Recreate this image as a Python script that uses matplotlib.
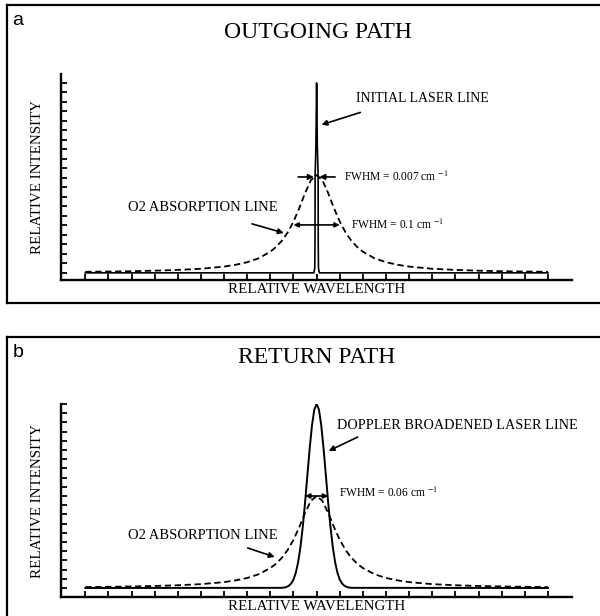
import matplotlib
matplotlib.use('Agg')
import matplotlib.pyplot as plt
from matplotlib.lines import Line2D

plt.rcParams['font.family'] = 'Liberation Serif'
plt.rcParams['mathtext.fontset'] = 'stix'

# Half-profiles (offset from line centre, relative units);
# the line shapes are symmetric, so each is mirrored about zero.
o2_offsets = [0, 0.25, 0.5, 0.75, 1.0, 1.25, 1.5, 1.75, 2.0, 2.5, 3.0, 3.5,
              4, 5, 6, 7, 8, 9, 10]
o2_out = [10.3, 9.75, 8.4, 6.82, 5.4, 4.26, 3.39, 2.73, 2.23, 1.54, 1.12, 0.85,
          0.66, 0.43, 0.31, 0.23, 0.17, 0.14, 0.11]
o2_ret = [10.0, 9.47, 8.16, 6.62, 5.24, 4.14, 3.29, 2.65, 2.17, 1.5, 1.09, 0.83,
          0.64, 0.42, 0.3, 0.22, 0.17, 0.13, 0.1]

laser_offsets = [0, 0.03, 0.065, 0.07, 0.08, 0.12, 10]
laser_out = [20, 13.5, 10.2, 3.0, 0.5, 0, 0]

doppler_offsets = [0, 0.1, 0.2, 0.3, 0.4, 0.5, 0.6, 0.7, 0.8, 0.9, 1.0, 1.1,
                   1.2, 1.35, 1.5, 10]
doppler_ret = [20, 19.39, 17.68, 15.16, 12.23, 9.27, 6.61, 4.43, 2.8, 1.66,
               0.92, 0.49, 0.24, 0.07, 0.02, 0]


def mirror(offsets, values):
    xs = [-o for o in offsets[::-1]] + list(offsets[1:])
    ys = list(values[::-1]) + list(values[1:])
    return xs, ys


def style_axes(ax):
    for side in ['top', 'right']:
        ax.spines[side].set_visible(False)
    ax.spines['left'].set_linewidth(1.7)
    ax.spines['bottom'].set_linewidth(1.7)
    ax.set_xticks(range(-10, 11))
    ax.set_yticks(range(0, 21))
    ax.tick_params(direction='in', length=4, width=1.3,
                   labelbottom=False, labelleft=False)
    ax.set_xlim(-11.05, 11.05)
    ax.set_ylabel('RELATIVE INTENSITY', fontsize=10.8, labelpad=12)
    ax.set_xlabel('RELATIVE WAVELENGTH', fontsize=10.8, labelpad=2)


fig = plt.figure(figsize=(6.0, 6.16), dpi=100)

# frames around the two panels
for xs, ys in [([0.012, 1.0], [0.992, 0.992]), ([0.012, 0.012], [0.992, 0.508]),
               ([0.012, 1.0], [0.508, 0.508]), ([0.012, 1.0], [0.453, 0.453]),
               ([0.012, 0.012], [0.453, 0.0])]:
    fig.add_artist(Line2D(xs, ys, color='black', lw=1.6))

dash = (0, (3.5, 2))
arrow = dict(arrowstyle='-|>', color='black', lw=1.2, mutation_scale=8,
             shrinkA=0, shrinkB=0)
darrow = dict(arrowstyle='<|-|>', color='black', lw=1.2, mutation_scale=7,
              shrinkA=0, shrinkB=0)

# ---- panel a: outgoing path
ax1 = fig.add_axes([0.1017, 0.5455, 0.852, 0.3344])
x, y = mirror(o2_offsets, o2_out)
ax1.plot(x, y, color='black', lw=1.3, linestyle=dash)
x, y = mirror(laser_offsets, laser_out)
ax1.plot(x, y, color='black', lw=1.2)
ax1.set_ylim(-0.75, 20.95)
style_axes(ax1)

ax1.annotate('', xy=(0.21, 15.6), xytext=(1.89, 16.9), arrowprops=arrow)
ax1.text(1.72, 18.4, 'INITIAL LASER LINE', fontsize=10, va='center')
ax1.annotate('', xy=(-0.12, 10.1), xytext=(-0.8, 10.1), arrowprops=arrow)
ax1.annotate('', xy=(0.12, 10.1), xytext=(0.8, 10.1), arrowprops=arrow)
ax1.text(1.2, 10.1, 'FWHM = 0.007 cm $^{-1}$', fontsize=8.3, va='center')
ax1.annotate('', xy=(-1.0, 5.05), xytext=(1.0, 5.05), arrowprops=darrow)
ax1.text(1.5, 5.05, 'FWHM = 0.1 cm $^{-1}$', fontsize=8.3, va='center')
ax1.annotate('', xy=(-1.42, 4.2), xytext=(-2.79, 5.16), arrowprops=arrow)
ax1.text(-8.15, 6.84, 'O2 ABSORPTION LINE', fontsize=10.5, va='center')

fig.text(0.53, 0.948, 'OUTGOING PATH', fontsize=17, ha='center', va='center')
fig.text(0.03, 0.967, 'a', fontsize=14, family='Liberation Sans',
         ha='center', va='center')

# ---- panel b: return path
ax2 = fig.add_axes([0.1017, 0.0308, 0.852, 0.3134])
x, y = mirror(o2_offsets, o2_ret)
ax2.plot(x, y, color='black', lw=1.3, linestyle=dash)
x, y = mirror(doppler_offsets, doppler_ret)
ax2.plot(x, y, color='black', lw=1.4)
ax2.set_ylim(-0.98, 20.0)
style_axes(ax2)

ax2.annotate('', xy=(0.52, 14.9), xytext=(1.77, 16.4), arrowprops=arrow)
ax2.text(0.86, 17.7, 'DOPPLER BROADENED LASER LINE', fontsize=10.3,
         va='center')
ax2.annotate('', xy=(-0.5, 10.0), xytext=(0.5, 10.0), arrowprops=darrow)
ax2.text(0.95, 10.3, 'FWHM = 0.06 cm $^{-1}$', fontsize=8.3, va='center')
ax2.annotate('', xy=(-1.81, 3.37), xytext=(-2.98, 4.35), arrowprops=arrow)
ax2.text(-8.16, 5.76, 'O2 ABSORPTION LINE', fontsize=10.5, va='center')

fig.text(0.528, 0.42, 'RETURN PATH', fontsize=17, ha='center', va='center')
fig.text(0.03, 0.428, 'b', fontsize=14, family='Liberation Sans',
         ha='center', va='center')

fig.savefig('out.png', dpi=100)
